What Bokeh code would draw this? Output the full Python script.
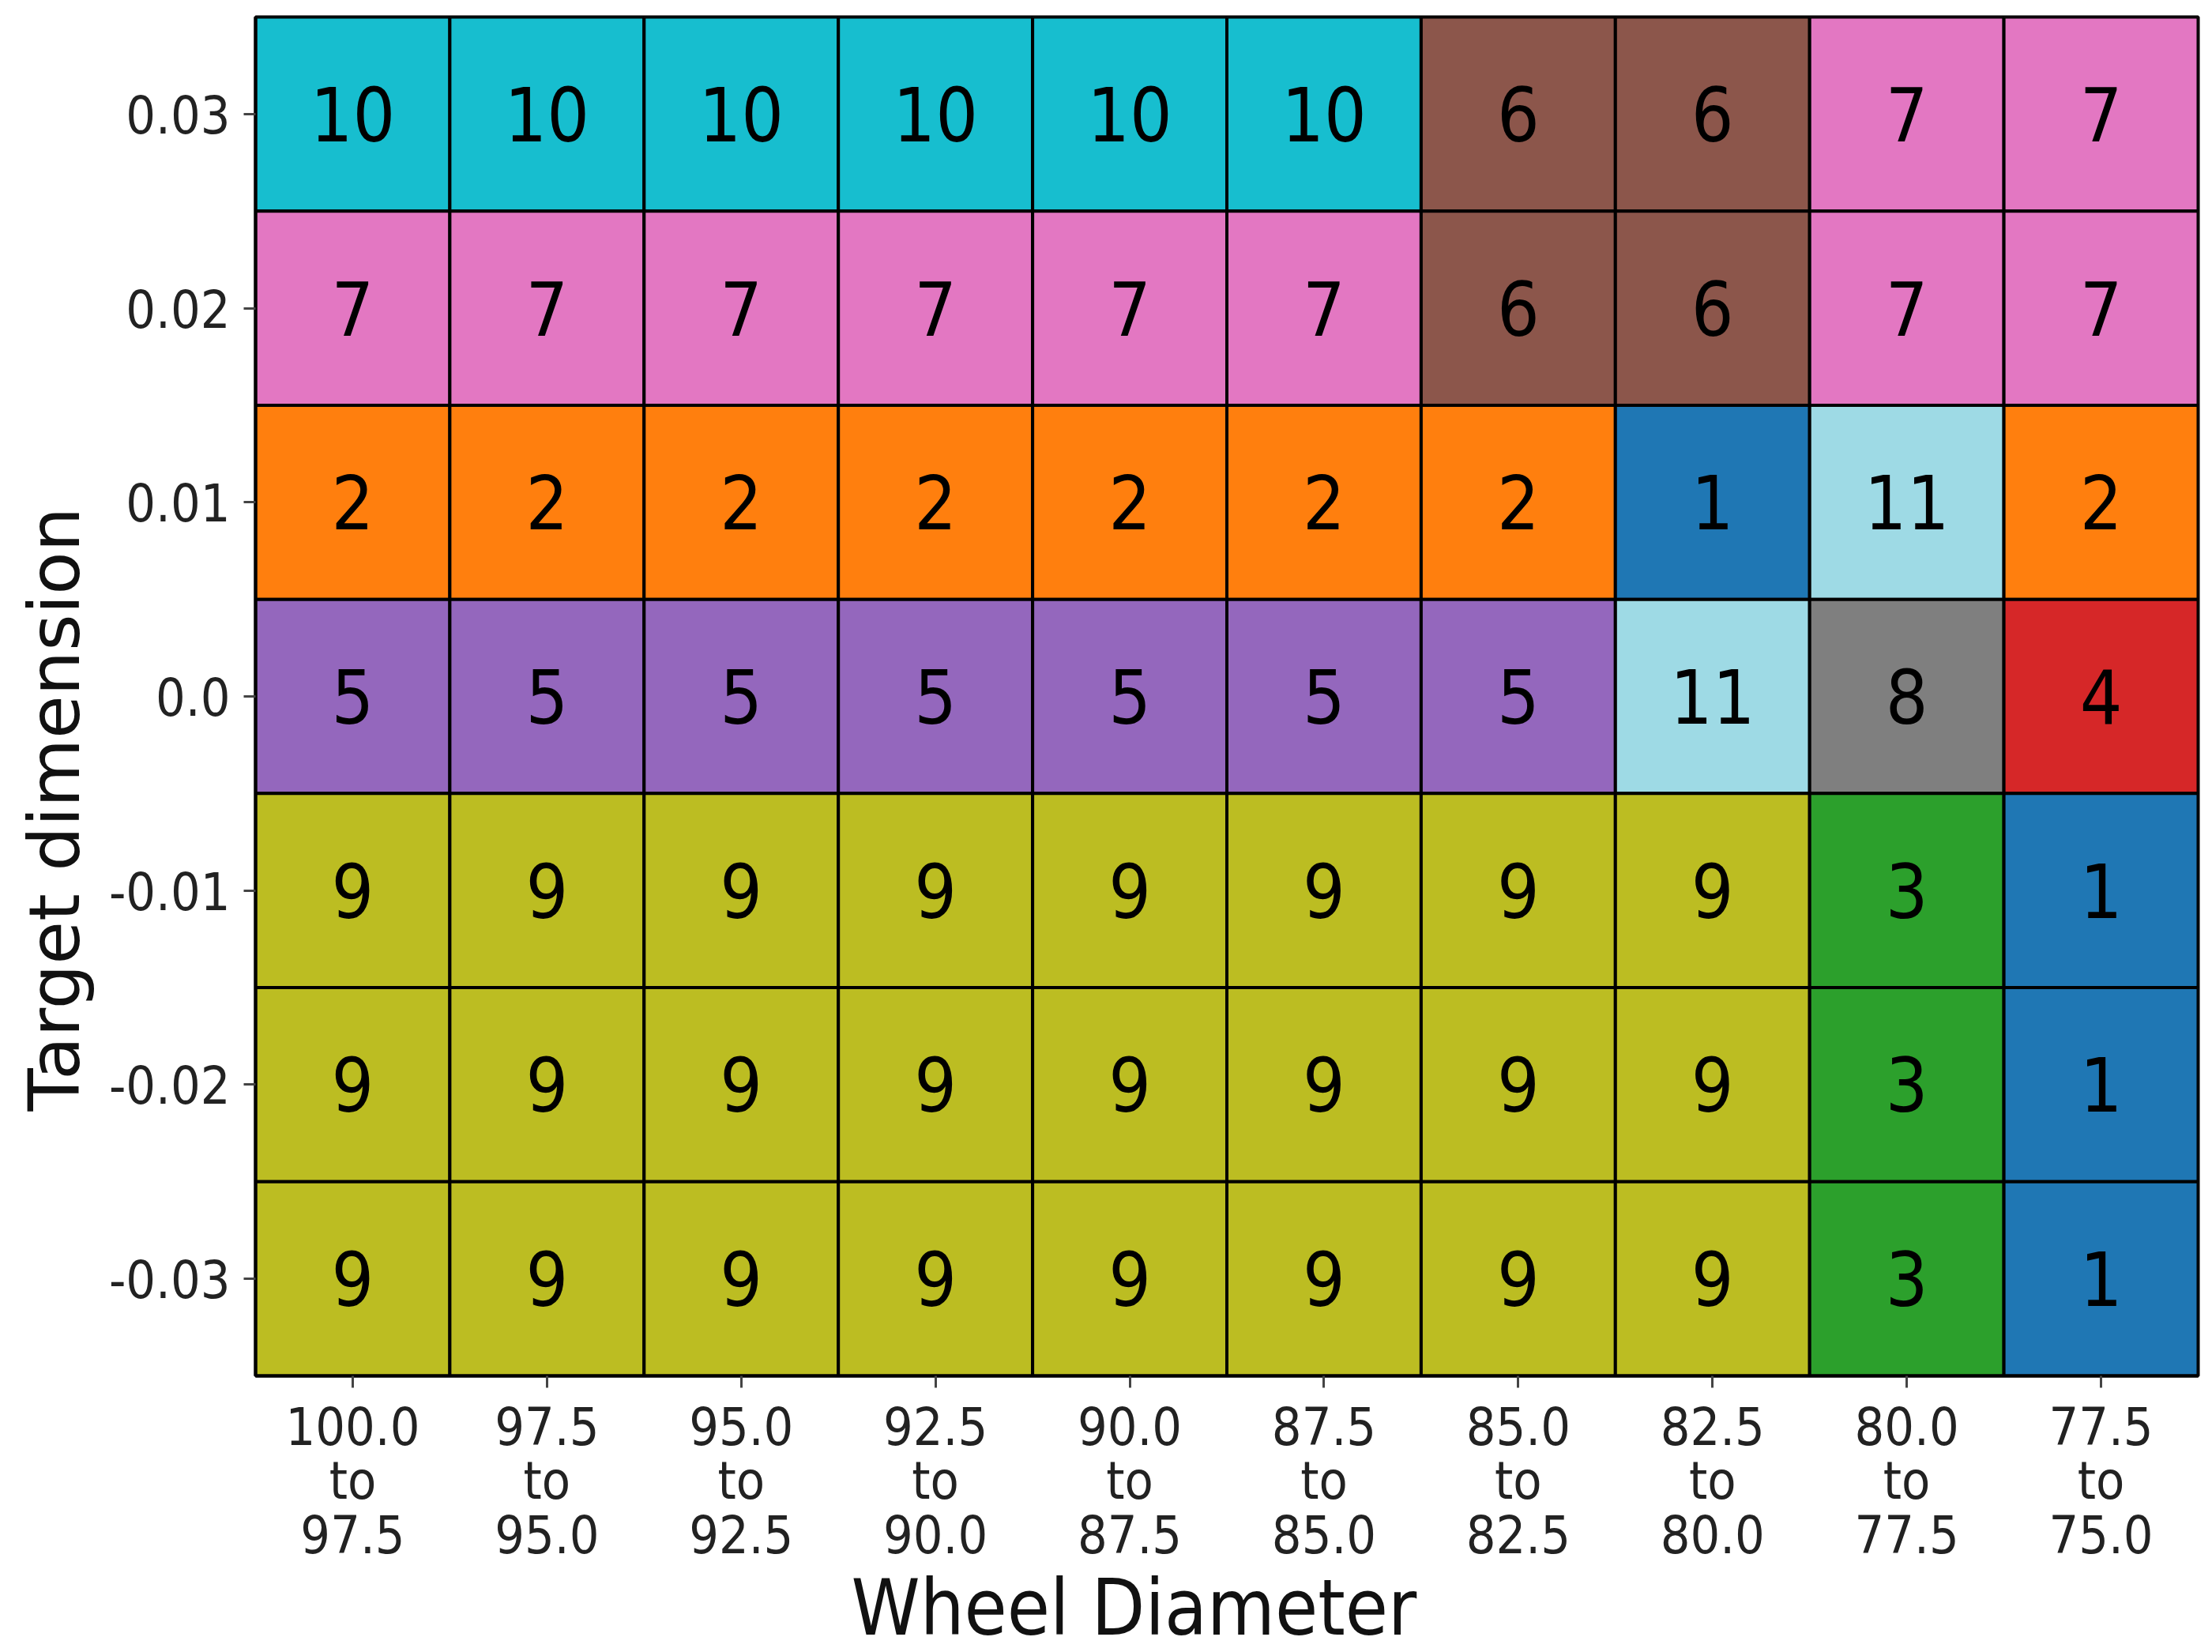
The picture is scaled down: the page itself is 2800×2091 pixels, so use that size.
from bokeh.plotting import figure
from bokeh.models import ColumnDataSource, FactorRange, Title
from bokeh.embed import file_html
from bokeh.resources import INLINE
from bokeh.core.properties import value

# ---- data ----
x_labels = ["100.0\nto\n97.5", "97.5\nto\n95.0", "95.0\nto\n92.5", "92.5\nto\n90.0",
            "90.0\nto\n87.5", "87.5\nto\n85.0", "85.0\nto\n82.5", "82.5\nto\n80.0",
            "80.0\nto\n77.5", "77.5\nto\n75.0"]
y_labels = ["0.03", "0.02", "0.01", "0.0", "-0.01", "-0.02", "-0.03"]  # top to bottom
grid = [
    [10, 10, 10, 10, 10, 10, 6, 6, 7, 7],
    [7, 7, 7, 7, 7, 7, 6, 6, 7, 7],
    [2, 2, 2, 2, 2, 2, 2, 1, 11, 2],
    [5, 5, 5, 5, 5, 5, 5, 11, 8, 4],
    [9, 9, 9, 9, 9, 9, 9, 9, 3, 1],
    [9, 9, 9, 9, 9, 9, 9, 9, 3, 1],
    [9, 9, 9, 9, 9, 9, 9, 9, 3, 1],
]
cluster_colors = {1: "#1f77b4", 2: "#ff7f0e", 3: "#2ca02c", 4: "#d62728", 5: "#9467bd",
                  6: "#8c564b", 7: "#e377c2", 8: "#7f7f7f", 9: "#bcbd22", 10: "#17becf",
                  11: "#9edae5"}
x_title = "Wheel Diameter"
y_title = "Target dimension"

xs, ys, vals, cols = [], [], [], []
for r, ylab in enumerate(y_labels):
    for c, xlab in enumerate(x_labels):
        v = grid[r][c]
        xs.append(xlab)
        ys.append(ylab)
        vals.append(str(v))
        cols.append(cluster_colors[v])
src = ColumnDataSource(dict(x=xs, y=ys, v=vals, color=cols))

FONT = "DejaVu Sans Condensed"
W, H = 2800, 2091
p = figure(width=W, height=H, output_backend="svg", toolbar_location=None,
           x_range=FactorRange(*x_labels), y_range=FactorRange(*list(reversed(y_labels))),
           min_border_left=323, min_border_right=18, min_border_top=21, min_border_bottom=350)

p.rect(x="x", y="y", width=1, height=1, source=src, fill_color="color",
       line_color="black", line_width=4)
p.text(x="x", y="y", text="v", source=src, text_align="center", text_baseline="middle",
       text_font=value(FONT), text_font_size="94px", text_color="black")

p.xgrid.visible = False
p.ygrid.visible = False
p.outline_line_color = "black"
p.outline_line_width = 4
p.x_range.range_padding = 0
p.y_range.range_padding = 0

for ax in (p.xaxis, p.yaxis):
    ax.axis_line_color = "black"
    ax.axis_line_width = 4
    ax.major_tick_line_color = "#444444"
    ax.major_tick_line_width = 3
    ax.major_tick_out = 15
    ax.major_tick_in = 0
    ax.minor_tick_line_color = None
    ax.major_label_text_font = FONT
    ax.major_label_text_font_size = "66px"
    ax.major_label_text_color = "#222222"

p.xaxis.major_label_standoff = 11
p.yaxis.major_label_standoff = 17
p.xaxis.major_label_orientation = "horizontal"
p.xaxis.major_label_text_line_height = 0.89

# axis titles, shifted off the frame centre as in the reference
p.add_layout(Title(text=x_title, align="left", offset=754, standoff=-17,
                   text_font=FONT, text_font_size="98px", text_font_style="normal",
                   text_color="#111111"), "below")
p.add_layout(Title(text=y_title, align="left", offset=335, standoff=28,
                   text_font="DejaVu Sans", text_font_size="89px", text_font_style="normal",
                   text_color="#111111"), "left")

open("out.html", "w").write(file_html(p, INLINE))
